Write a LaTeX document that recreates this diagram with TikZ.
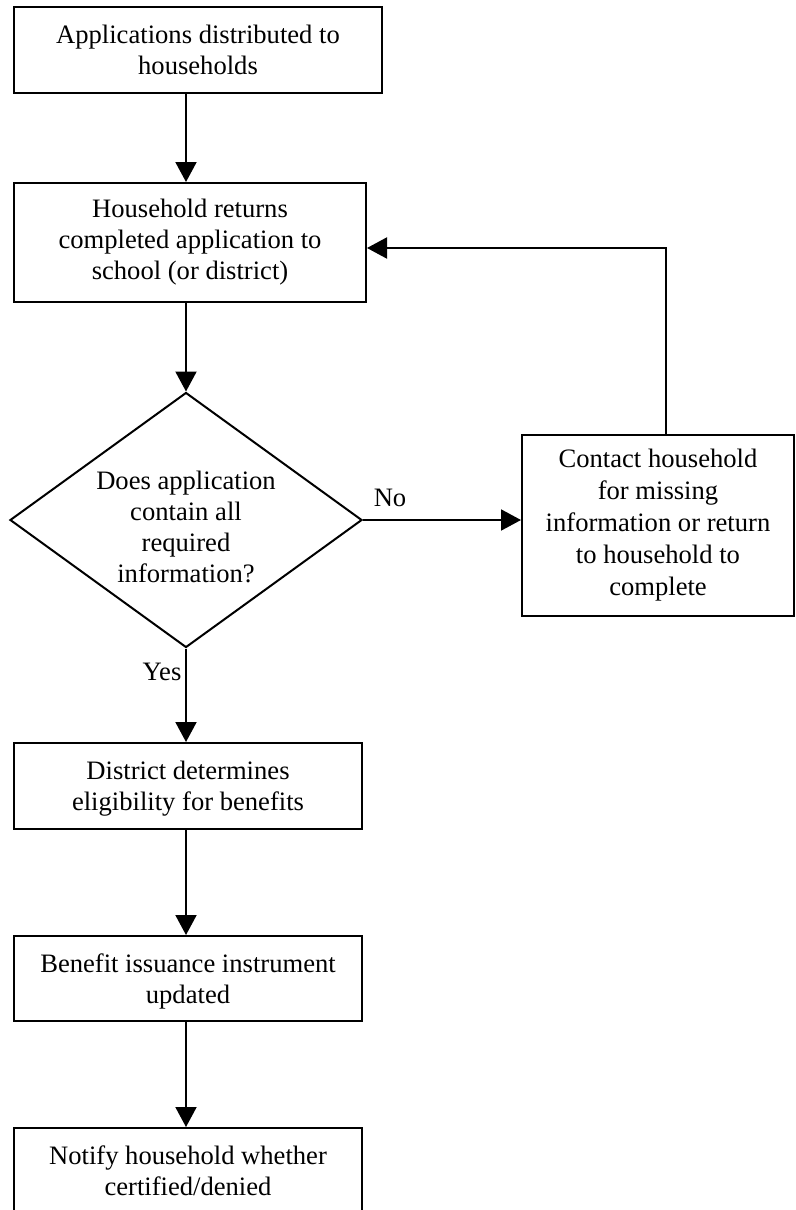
\documentclass[tikz,border=0pt]{standalone}
\usepackage{fontspec}
\setmainfont{Liberation Serif}
\usepackage{tikz}
\usetikzlibrary{shapes.geometric,arrows.meta,calc}
\newcommand{\flowfont}{\fontsize{13.3}{15.5}\selectfont}
\tikzset{
  procbox/.style={draw=black, line width=1pt, align=center, inner sep=0pt, font=\flowfont},
  decision/.style={diamond, draw=black, line width=1pt, inner sep=0pt, aspect=1.38},
  flow/.style={-{Triangle[length=10pt,width=10.5pt]}, draw=black, line width=1pt},
  answer/.style={black, inner sep=0pt, align=center, font=\flowfont}
}

\begin{document}
\begin{tikzpicture}[x=0.5pt, y=-0.5pt]
  \useasboundingbox (0,0) rectangle (796,1210);
  \clip (0,0) rectangle (796,1210);
  % main column
  \node[procbox, minimum width=184pt, minimum height=43pt] (apps) at (198,50) {Applications distributed to\\households};
  \node[procbox, minimum width=176pt, minimum height=59.5pt] (returns) at (190,242.5) {Household returns\\completed application to\\school (or district)};
  \node[decision, minimum width=176pt, minimum height=127.5pt] (check) at (186,520) {};
  \node[answer] (checktext) at ([yshift=-3.5pt]check.center) {Does application\\contain all\\required\\information?};
  \node[procbox, minimum width=174pt, minimum height=43pt] (elig) at (188,786) {\rule{0pt}{12pt}District determines\\eligibility for benefits};
  \node[procbox, minimum width=174pt, minimum height=42.5pt] (issue) at (188,978.5) {\rule{0pt}{12pt}Benefit issuance instrument\\updated};
  \node[procbox, minimum width=174pt, minimum height=43pt] (notify) at (188,1171) {Notify household whether\\certified/denied};
  % side branch
  \node[procbox, minimum width=136pt, minimum height=90.5pt, font=\fontsize{13.3}{16}\selectfont] (contact) at (658,525.5) {Contact household\\for missing\\information or return\\to household to\\complete};
  \node[answer] (no) at (390,498) {No};
  \node[answer] (yes) at (162,672) {Yes};
  % connectors
  \draw[flow] (apps.south -| check.north) -- (returns.north -| check.north);
  \draw[flow] (returns.south -| check.north) -- (check.north);
  \draw[flow] (check.east) -- (contact.west |- check.east);
  \draw[flow] (check.south) -- (elig.north -| check.south);
  \draw[flow] (elig.south -| check.south) -- (issue.north -| check.south);
  \draw[flow] (issue.south -| check.south) -- (notify.north -| check.south);
  \draw[flow] ([xshift=4pt]contact.north) |- ([yshift=-2.75pt]returns.east);
\end{tikzpicture}
\end{document}
